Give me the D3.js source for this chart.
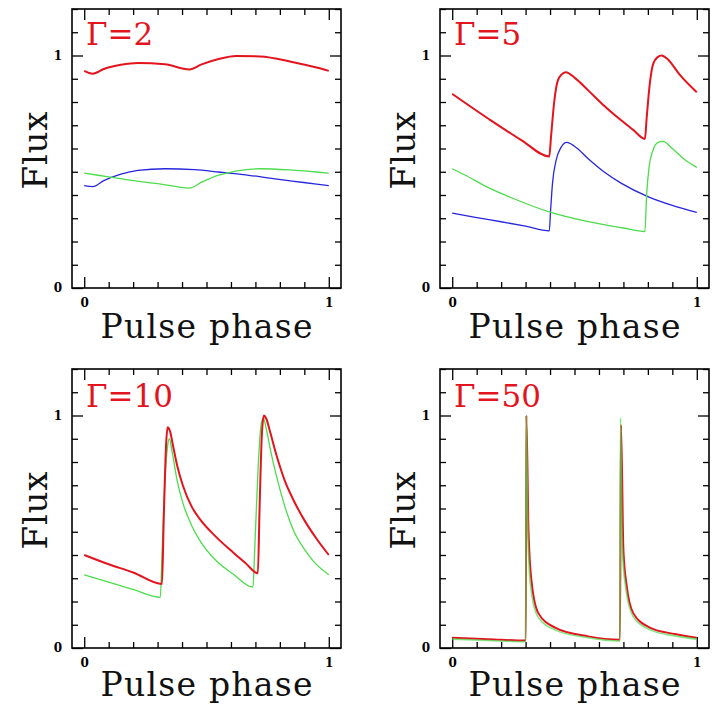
<!DOCTYPE html>
<html><head><meta charset="utf-8">
<script src="https://cdn.jsdelivr.net/npm/d3@7/dist/d3.min.js"></script>
<style>html,body{margin:0;padding:0;background:#fff;}</style>
</head><body>
<svg id="chart" width="715" height="707"></svg>
<script>
// ---------- data ----------
const panelLabels = ["\u0393=2", "\u0393=5", "\u0393=10", "\u0393=50"];
const xTickLabels = ["0", "1"];
const yTickLabels = ["0", "1"];

// Gamma = 2
const g2BluePhase = [0, 0.035, 0.08, 0.15, 0.22, 0.33, 0.45, 0.55, 0.65, 0.75, 0.85, 0.95, 1.0];
const g2BlueFlux  = [0.440, 0.436, 0.462, 0.490, 0.506, 0.513, 0.509, 0.499, 0.488, 0.474, 0.460, 0.447, 0.440];
const g2GreenPhase = [0, 0.10, 0.20, 0.30, 0.43, 0.48, 0.55, 0.62, 0.72, 0.85, 0.95, 1.0];
const g2GreenFlux  = [0.494, 0.478, 0.462, 0.449, 0.430, 0.455, 0.485, 0.503, 0.513, 0.507, 0.499, 0.494];
const g2RedPhase = [0, 0.035, 0.08, 0.15, 0.22, 0.33, 0.43, 0.48, 0.55, 0.62, 0.72, 0.85, 0.95, 1.0];
const g2RedFlux  = [0.934, 0.922, 0.942, 0.960, 0.968, 0.962, 0.940, 0.962, 0.985, 0.998, 0.996, 0.972, 0.948, 0.934];

// Gamma = 5
const g5BluePhase = [0, 0.1, 0.2, 0.3, 0.397, 0.402, 0.41, 0.425, 0.445, 0.468, 0.5, 0.556, 0.62, 0.692, 0.8, 0.9, 1.0];
const g5BlueFlux  = [0.322, 0.303, 0.285, 0.266, 0.246, 0.33, 0.45, 0.55, 0.605, 0.626, 0.61, 0.556, 0.50, 0.45, 0.393, 0.355, 0.325];
const g5GreenPhase = [0, 0.05, 0.148, 0.25, 0.397, 0.556, 0.7, 0.788, 0.795, 0.805, 0.82, 0.84, 0.862, 0.9, 0.95, 1.0];
const g5GreenFlux  = [0.513, 0.487, 0.432, 0.385, 0.327, 0.285, 0.258, 0.243, 0.40, 0.52, 0.59, 0.625, 0.631, 0.60, 0.553, 0.519];
const g5RedPhase = [0, 0.148, 0.284, 0.397, 0.404, 0.417, 0.431, 0.449, 0.465, 0.5, 0.556, 0.62, 0.692, 0.74, 0.788, 0.795, 0.808, 0.822, 0.84, 0.856, 0.88, 0.93, 1.0];
const g5RedFlux  = [0.835, 0.728, 0.635, 0.566, 0.65, 0.80, 0.89, 0.92, 0.928, 0.905, 0.85, 0.785, 0.72, 0.68, 0.641, 0.73, 0.88, 0.965, 0.993, 1.0, 0.985, 0.918, 0.842];

// Gamma = 10
const g10GreenPhase = [0, 0.1, 0.2, 0.311, 0.318, 0.33, 0.34, 0.348, 0.36, 0.38, 0.403, 0.44, 0.473, 0.54, 0.609, 0.69, 0.697, 0.71, 0.722, 0.732, 0.745, 0.76, 0.786, 0.82, 0.854, 0.9, 0.936, 1.0];
const g10GreenFlux  = [0.315, 0.283, 0.252, 0.218, 0.40, 0.72, 0.86, 0.90, 0.84, 0.72, 0.625, 0.525, 0.462, 0.375, 0.318, 0.262, 0.42, 0.75, 0.95, 0.99, 0.94, 0.86, 0.74, 0.61, 0.51, 0.425, 0.375, 0.315];
const g10RedPhase = [0, 0.1, 0.2, 0.318, 0.325, 0.335, 0.341, 0.35, 0.365, 0.38, 0.403, 0.44, 0.473, 0.54, 0.609, 0.66, 0.71, 0.717, 0.727, 0.735, 0.745, 0.76, 0.786, 0.82, 0.854, 0.9, 0.95, 1.0];
const g10RedFlux  = [0.40, 0.36, 0.325, 0.275, 0.55, 0.88, 0.95, 0.935, 0.86, 0.785, 0.70, 0.607, 0.554, 0.477, 0.411, 0.365, 0.321, 0.6, 0.93, 1.0, 0.985, 0.93, 0.83, 0.72, 0.64, 0.55, 0.47, 0.40];

// Gamma = 50
const g50GreenPhase = [0, 0.15, 0.301, 0.302, 0.31, 0.32, 0.35, 0.42, 0.55, 0.686, 0.688, 0.695, 0.71, 0.74, 0.81, 0.91, 1.0];
const g50GreenFlux  = [0.038, 0.032, 0.027, 1.0, 0.47, 0.27, 0.135, 0.078, 0.045, 0.03, 0.99, 0.44, 0.255, 0.135, 0.078, 0.052, 0.038];
const g50RedPhase = [0, 0.15, 0.301, 0.303, 0.312, 0.325, 0.352, 0.42, 0.556, 0.686, 0.69, 0.70, 0.713, 0.74, 0.808, 0.91, 1.0];
const g50RedFlux  = [0.044, 0.038, 0.032, 1.0, 0.50, 0.28, 0.15, 0.088, 0.05, 0.036, 0.96, 0.42, 0.27, 0.15, 0.088, 0.06, 0.044];

// ---------- styling / layout ----------
const RED = "#e2141e", GREEN = "#4cdc4c", BLUE = "#2626dc";
const colX = [72, 440], rowY = [9, 369];
const FW = 269, FH = 279;

const zip = (p, f) => p.map((v, i) => [v, f[i]]);
const panels = [
  {label: panelLabels[0], col: 0, row: 0, series: [
    {pts: zip(g2BluePhase, g2BlueFlux), color: BLUE, w: 1.3},
    {pts: zip(g2GreenPhase, g2GreenFlux), color: GREEN, w: 1.3},
    {pts: zip(g2RedPhase, g2RedFlux), color: RED, w: 2}]},
  {label: panelLabels[1], col: 1, row: 0, series: [
    {pts: zip(g5BluePhase, g5BlueFlux), color: BLUE, w: 1.3},
    {pts: zip(g5GreenPhase, g5GreenFlux), color: GREEN, w: 1.3},
    {pts: zip(g5RedPhase, g5RedFlux), color: RED, w: 2}]},
  {label: panelLabels[2], col: 0, row: 1, series: [
    {pts: zip(g10GreenPhase, g10GreenFlux), color: GREEN, w: 1.3},
    {pts: zip(g10RedPhase, g10RedFlux), color: RED, w: 2}]},
  {label: panelLabels[3], col: 1, row: 1, series: [
    {pts: zip(g50RedPhase, g50RedFlux), color: RED, w: 2},
    {pts: zip(g50GreenPhase, g50GreenFlux), color: GREEN, w: 1.6, op: 0.7}]}
];

const svg = d3.select("#chart");
const minorTicks = d3.range(0, 11).map(i => i / 10);
const yMinor = d3.range(0, 13).map(i => i / 10);

panels.forEach((p, idx) => {
  const x0 = colX[p.col], y0 = rowY[p.row];
  const x = d3.scaleLinear().domain([-0.05, 1.05]).range([x0, x0 + FW]);
  const y = d3.scaleLinear().domain([0, 1.2]).range([y0 + FH, y0]);
  const g = svg.append("g");

  const clipId = "clip" + idx;
  g.append("clipPath").attr("id", clipId).append("rect")
    .attr("x", x0).attr("y", y0).attr("width", FW).attr("height", FH);

  const isMajor = v => Math.abs(v) < 1e-9 || Math.abs(v - 1) < 1e-9;
  function styleAxis(sel) {
    sel.select(".domain").remove();
    sel.selectAll("line").attr("stroke", "#000").attr("stroke-width", 1.3);
    sel.selectAll("text").attr("font-family", "DejaVu Serif").attr("font-weight", "bold")
      .attr("font-size", 12).attr("fill", "#000");
  }
  const fmt = v => isMajor(v) ? (v < 0.5 ? xTickLabels[0] : xTickLabels[1]) : "";
  const fmtY = v => isMajor(v) ? (v < 0.5 ? yTickLabels[0] : yTickLabels[1]) : "";

  // bottom
  g.append("g").attr("transform", `translate(0,${y0 + FH})`)
    .call(d3.axisBottom(x).tickValues(minorTicks).tickSize(0).tickPadding(10).tickFormat(fmt))
    .call(styleAxis)
    .call(s => s.selectAll(".tick line").attr("y2", d => isMajor(d) ? -11 : -6));
  // top
  g.append("g").attr("transform", `translate(0,${y0})`)
    .call(d3.axisTop(x).tickValues(minorTicks).tickSize(0).tickFormat(""))
    .call(styleAxis)
    .call(s => s.selectAll(".tick line").attr("y2", d => isMajor(d) ? 11 : 6));
  // left
  g.append("g").attr("transform", `translate(${x0},0)`)
    .call(d3.axisLeft(y).tickValues(yMinor).tickSize(0).tickPadding(10).tickFormat(fmtY))
    .call(styleAxis)
    .call(s => s.selectAll(".tick line").attr("x2", d => isMajor(d) ? 11 : 6));
  // right
  g.append("g").attr("transform", `translate(${x0 + FW},0)`)
    .call(d3.axisRight(y).tickValues(yMinor).tickSize(0).tickFormat(""))
    .call(styleAxis)
    .call(s => s.selectAll(".tick line").attr("x2", d => isMajor(d) ? -11 : -6));

  // series
  const line = d3.line().x(d => x(d[0])).y(d => y(d[1])).curve(d3.curveMonotoneX);
  const lg = g.append("g").attr("clip-path", `url(#${clipId})`);
  p.series.forEach(s => {
    lg.append("path").attr("d", line(s.pts)).attr("fill", "none")
      .attr("stroke", s.color).attr("stroke-width", s.w)
      .attr("stroke-opacity", s.op || 1).attr("stroke-linejoin", "round");
  });

  // frame
  g.append("rect").attr("x", x0).attr("y", y0).attr("width", FW).attr("height", FH)
    .attr("fill", "none").attr("stroke", "#000").attr("stroke-width", 1.6);

  // panel label
  g.append("text").attr("x", x0 + 14).attr("y", y0 + 36 + (p.row ? 2 : 0))
    .attr("font-family", "DejaVu Serif").attr("font-size", 31).attr("fill", RED)
    .text(p.label);

  // axis titles
  g.append("text").attr("x", x0 + FW / 2).attr("y", y0 + FH + (p.row ? 48 : 50))
    .attr("text-anchor", "middle").attr("font-family", "DejaVu Serif").attr("font-size", 33)
    .attr("textLength", 212).attr("lengthAdjust", "spacing").attr("fill", "#111")
    .text("Pulse phase");
  g.append("text")
    .attr("transform", `translate(${x0 - 25},${y0 + FH / 2 + 2}) rotate(-90)`)
    .attr("text-anchor", "middle").attr("font-family", "DejaVu Serif").attr("font-size", 34)
    .attr("textLength", 78).attr("lengthAdjust", "spacing").attr("fill", "#111")
    .text("Flux");
});
</script>
</body></html>
